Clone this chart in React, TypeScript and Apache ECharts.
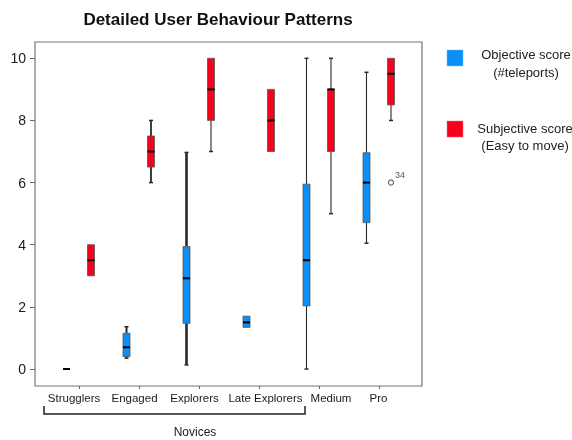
import React, { useEffect, useRef } from "react";
import * as echarts from "echarts";

const categories = ["Strugglers", "Engaged", "Explorers", "Late Explorers", "Medium", "Pro"];
// [min, q1, median, q3, max]
const objectiveStats = [
  [0, 0, 0, 0, 0],
  [0.35, 0.4, 0.7, 1.15, 1.36],
  [0.13, 1.47, 2.92, 3.94, 6.97],
  [1.34, 1.34, 1.5, 1.7, 1.7],
  [0, 2.03, 3.5, 5.95, 10],
  [4.05, 4.71, 6.0, 6.96, 9.55],
];
const subjectiveStats = [
  [3, 3, 3.5, 4, 4],
  [6, 6.5, 7, 7.5, 8],
  [7, 8, 9, 10, 10],
  [7, 7, 8, 9, 9],
  [5, 7, 9, 9, 10],
  [8, 8.5, 9.5, 10, 10],
];
// [categoryIndex, value, case label]
const subjectiveOutliers = [[5, 6.0, "34"]];
const yTicks = [0, 2, 4, 6, 8, 10];
const yRange = [-0.547, 10.525];
const legendLabels = ["Objective score\n(#teleports)", "Subjective score\n(Easy to move)"];
const groupLabel = "Novices";

// styling: horizontal nudges of the category labels (px) and whisker widths
const labelShift = [-5, -4.5, -4.5, 6.5, 12, -0.5];
const objWhiskerWidth = [2, 2, 2.6, 1, 1.1, 1.1];
const subWhiskerWidth = [2, 1.8, 1.1, 1, 1.1, 1.1];

const BLUE = "#0b8ef5";
const RED = "#f5021c";
const FONT = "'Liberation Sans', Arial, Helvetica, sans-serif";

function boxRenderer(offset: number, color: string, widths: number[]) {
  return (params: any, api: any) => {
    const ci = api.value(0);
    const mn = api.value(1), q1 = api.value(2), md = api.value(3), q3 = api.value(4), mx = api.value(5);
    const pMin = api.coord([ci, mn]);
    const pQ1 = api.coord([ci, q1]);
    const pMd = api.coord([ci, md]);
    const pQ3 = api.coord([ci, q3]);
    const pMax = api.coord([ci, mx]);
    const x = pMin[0] + offset;
    const hw = 3.5;
    const cap = 2;
    const wStyle = { stroke: "#2a2a2a", lineWidth: widths[params.dataIndex] };
    const cStyle = { stroke: "#2a2a2a", lineWidth: 1.5 };
    const children: any[] = [];
    if (mx > q3) {
      children.push({ type: "line", shape: { x1: x, y1: pMax[1], x2: x, y2: pQ3[1] }, style: wStyle });
      children.push({ type: "line", shape: { x1: x - cap, y1: pMax[1], x2: x + cap, y2: pMax[1] }, style: cStyle });
    }
    if (mn < q1) {
      children.push({ type: "line", shape: { x1: x, y1: pQ1[1], x2: x, y2: pMin[1] }, style: wStyle });
      children.push({ type: "line", shape: { x1: x - cap, y1: pMin[1], x2: x + cap, y2: pMin[1] }, style: cStyle });
    }
    if (q3 > q1) {
      children.push({
        type: "rect",
        shape: { x: x - hw, y: pQ3[1], width: hw * 2, height: pQ1[1] - pQ3[1] },
        style: { fill: color, stroke: "#555", lineWidth: 0.8 },
      });
    }
    children.push({
      type: "line",
      shape: { x1: x - hw, y1: pMd[1], x2: x + hw, y2: pMd[1] },
      style: { stroke: "#000", lineWidth: 2 },
    });
    return { type: "group", children };
  };
}

export default function App() {
  const ref = useRef<HTMLDivElement>(null);
  useEffect(() => {
    if (!ref.current) return;
    const chart = echarts.init(ref.current, null, { renderer: "svg" });
    const objData = objectiveStats.map((s, i) => [i, ...s]);
    const subData = subjectiveStats.map((s, i) => [i, ...s]);
    const rich: any = {};
    labelShift.forEach((s, i) => {
      rich["c" + i] = {
        fontSize: 11.5,
        color: "#1a1a1a",
        fontFamily: FONT,
        padding: s >= 0 ? [0, 0, 0, 2 * s] : [0, -2 * s, 0, 0],
      };
    });
    chart.setOption({
      animation: false,
      textStyle: { fontFamily: FONT },
      title: {
        text: "Detailed User Behaviour Patterns",
        left: 213,
        textAlign: "center",
        top: 6,
        textStyle: { fontSize: 17, fontWeight: "bold", color: "#111", fontFamily: FONT },
      },
      grid: { left: 49, width: 360, top: 42, bottom: 54 },
      xAxis: {
        type: "category",
        data: categories,
        axisLine: { show: false, onZero: false },
        axisTick: { show: true, alignWithLabel: true, length: 3, lineStyle: { color: "#666" } },
        axisLabel: {
          margin: 6,
          fontSize: 11.5,
          color: "#1a1a1a",
          fontFamily: FONT,
          interval: 0,
          hideOverlap: false,
          formatter: (v: string, i: number) => `{c${i}|${v}}`,
          rich,
        },
        splitLine: { show: false },
      },
      yAxis: {
        type: "value",
        min: yRange[0],
        max: yRange[1],
        offset: 14,
        axisLine: { show: false },
        axisTick: { show: true, length: 5, lineStyle: { color: "#666" }, customValues: yTicks },
        axisLabel: { margin: 9, fontSize: 14, color: "#1a1a1a", fontFamily: FONT, customValues: yTicks },
        splitLine: { show: false },
      },
      graphic: [
        {
          type: "rect",
          shape: { x: 35, y: 42, width: 387, height: 344 },
          style: { fill: "none", stroke: "#777", lineWidth: 1.2 },
          z: 0,
        },
        {
          type: "polyline",
          shape: { points: [[44, 406], [44, 414], [305, 414], [305, 406]] },
          style: { fill: "none", stroke: "#222", lineWidth: 1.5 },
        },
        {
          type: "text",
          x: 195,
          y: 432,
          style: { text: groupLabel, fill: "#1a1a1a", align: "center", verticalAlign: "middle", font: `12px ${FONT}` },
        },
        {
          type: "rect",
          shape: { x: 447, y: 50, width: 16, height: 16 },
          style: { fill: BLUE, stroke: "#6fb8f5", lineWidth: 0.5 },
        },
        {
          type: "text",
          x: 526,
          y: 63,
          style: { text: legendLabels[0], fill: "#222", align: "center", verticalAlign: "middle", font: `13px ${FONT}`, lineHeight: 18 },
        },
        {
          type: "rect",
          shape: { x: 447, y: 121, width: 16, height: 16 },
          style: { fill: RED, stroke: "#f77", lineWidth: 0.5 },
        },
        {
          type: "text",
          x: 525,
          y: 137,
          style: { text: legendLabels[1], fill: "#222", align: "center", verticalAlign: "middle", font: `13px ${FONT}`, lineHeight: 17 },
        },
      ],
      series: [
        {
          type: "custom",
          name: "Objective",
          renderItem: boxRenderer(-12.5, BLUE, objWhiskerWidth),
          encode: { x: 0, y: [1, 2, 3, 4, 5] },
          data: objData,
          z: 3,
        },
        {
          type: "custom",
          name: "Subjective",
          renderItem: boxRenderer(12, RED, subWhiskerWidth),
          encode: { x: 0, y: [1, 2, 3, 4, 5] },
          data: subData,
          z: 3,
        },
        {
          type: "custom",
          name: "Outliers",
          renderItem: (params: any, api: any) => {
            const p = api.coord([api.value(0), api.value(1)]);
            const x = p[0] + 12;
            return {
              type: "group",
              children: [
                { type: "circle", shape: { cx: x, cy: p[1], r: 2.6 }, style: { fill: "#fff", stroke: "#666", lineWidth: 1.2 } },
                {
                  type: "text",
                  x: x + 4,
                  y: p[1] - 8,
                  style: { text: String(subjectiveOutliers[params.dataIndex][2]), fill: "#555", font: `9px ${FONT}`, align: "left", verticalAlign: "middle" },
                },
              ],
            };
          },
          encode: { x: 0, y: 1 },
          data: subjectiveOutliers.map((o) => [o[0], o[1]]),
          z: 3,
        },
      ],
    });
    return () => chart.dispose();
  }, []);
  return <div ref={ref} style={{ position: "fixed", left: 0, top: 0, width: 572, height: 440 }} />;
}
